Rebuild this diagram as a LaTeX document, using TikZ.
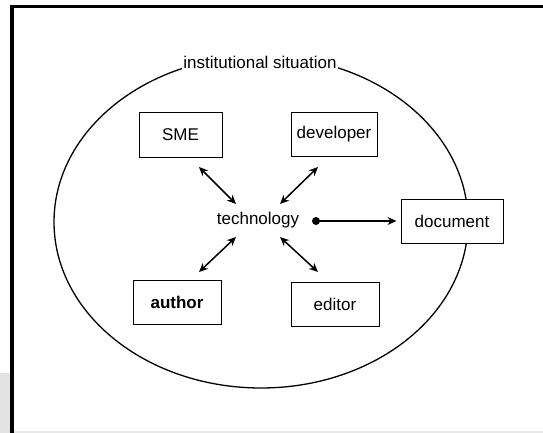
\documentclass[tikz,border=0pt]{standalone}
\usepackage{fontspec}
\setmainfont{Liberation Sans}
\usetikzlibrary{arrows.meta}
\begin{document}
\begin{tikzpicture}[x=1pt,y=-1pt,
  lbl/.style={font=\fontsize{17}{20}\selectfont},
  boxnode/.style={lbl,draw=black,line width=1pt,fill=white,minimum height=44pt,inner sep=0pt},
  dbl/.style={{Stealth[length=9pt,width=8pt]}-{Stealth[length=9pt,width=8pt]},line width=1.5pt},
  sgl/.style={-{Stealth[length=9pt,width=8pt]},line width=1.4pt}]
\useasboundingbox (0,0) rectangle (543,433);
% page background pieces
\fill[gray!22] (0,373) rectangle (10,433);
\fill[gray!18] (12,431) rectangle (543,433);
\draw[line width=3.5pt] (11.8,433) -- (11.8,6.6) -- (543,6.6);
% situation ellipse
\draw[line width=1.3pt] (261,222) ellipse [x radius=207, y radius=166];
\node[lbl,fill=white,inner xsep=1pt,inner ysep=4pt] (inst) at (260,62) {institutional situation};
% boxes
\node[boxnode,minimum width=83pt] (sme) at (180.5,135) {SME};
\node[boxnode,minimum width=86pt] (dev) at (334,134.5) {developer};
\node[boxnode,minimum width=88pt,font=\fontsize{17}{20}\selectfont\bfseries] (author) at (177,302.5) {author};
\node[boxnode,minimum width=88pt] (editor) at (335,304) {editor};
\node[boxnode,minimum width=102pt] (doc) at (452,221) {document};
% technology
\node[lbl,inner sep=0pt] (tech) at (258,220) {technology};
\node[circle,fill=black,inner sep=0pt,minimum size=8pt] (dot) at (316,221) {};
% arrow end points
\coordinate (smeA) at (199,167);
\coordinate (smeB) at (236,204);
\coordinate (devA) at (318,167);
\coordinate (devB) at (280,204);
\coordinate (autA) at (236,237);
\coordinate (autB) at (199,272);
\coordinate (edA) at (280,237);
\coordinate (edB) at (318,272);
\draw[dbl] (smeA) -- (smeB);
\draw[dbl] (devA) -- (devB);
\draw[dbl] (autA) -- (autB);
\draw[dbl] (edA) -- (edB);
\draw[sgl,shorten >=4pt] (dot.center) -- (doc.west);
\end{tikzpicture}
\end{document}
